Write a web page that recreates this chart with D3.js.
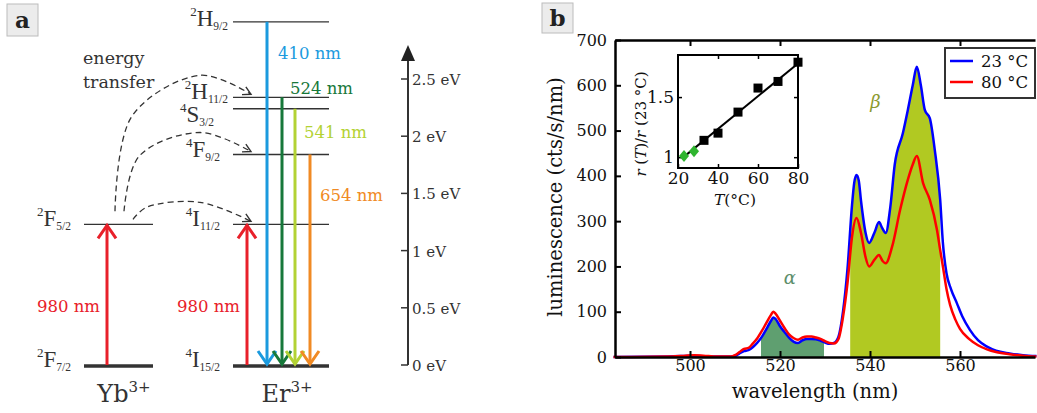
<!DOCTYPE html>
<html>
<head>
<meta charset="utf-8">
<script src="https://cdn.jsdelivr.net/npm/d3@7"></script>
<style>
  body { margin: 0; background: #fff; }
  svg { display: block; }
  .serif { font-family: "DejaVu Serif", serif; }
  .times { font-family: "Liberation Serif", serif; }
</style>
</head>
<body>
<svg id="fig" width="1037" height="413"></svg>
<script>
// ---------- data ----------
// panel a: energy levels (eV)
var ybLevels = [
  {term: "F", spin: "2", j: "7/2", e: 0},
  {term: "F", spin: "2", j: "5/2", e: 1.23}
];
var erLevels = [
  {term: "I", spin: "4", j: "15/2", e: 0},
  {term: "I", spin: "4", j: "11/2", e: 1.23},
  {term: "F", spin: "4", j: "9/2", e: 1.84},
  {term: "S", spin: "4", j: "3/2", e: 2.24},
  {term: "H", spin: "2", j: "11/2", e: 2.34},
  {term: "H", spin: "2", j: "9/2", e: 3.0}
];
var emissions = [
  {nm: "410 nm", e: 3.0, color: "#1b9ade"},
  {nm: "524 nm", e: 2.34, color: "#17783a"},
  {nm: "541 nm", e: 2.24, color: "#b3d234"},
  {nm: "654 nm", e: 1.84, color: "#f08a24"}
];
var transferTo = [2.34, 1.84, 1.23];
var eTicks = [0, 0.5, 1, 1.5, 2, 2.5];
var pumpE = 1.23;

// panel b: spectra
var wl23 = [483, 495, 498, 500, 502, 505, 509, 510, 511, 512, 513, 514, 515, 516, 517, 518, 518.5, 519, 520, 521, 522, 523, 524, 525, 526, 527, 528, 529, 530, 531, 532, 533, 534, 535, 536, 536.5, 537, 537.5, 538, 539, 539.8, 541, 542, 542.7, 543.5, 544.5, 545.5, 547.3, 548.4, 549.5, 550.4, 551.3, 552.2, 553.3, 554.4, 555.6, 556.2, 557, 558, 559.3, 560.5, 562.2, 564, 566, 568, 571, 574, 577];
var lum23 = [0, 1, 2, 3, 2, 1, 1, 2, 8, 13, 15, 22, 32, 45, 62, 80, 87, 84, 68, 55, 43, 34, 31, 37, 40, 40, 39, 36, 32, 29, 31, 45, 100, 195, 335, 385, 402, 390, 345, 275, 252, 275, 298, 285, 274, 330, 425, 494, 545, 600, 641, 600, 545, 527, 457, 347, 252, 185, 150, 119, 90, 60, 37, 23, 14, 8, 4, 2];
var wl80 = [483, 496, 499, 501, 503, 506, 509, 510, 511, 512, 513, 514, 515, 516, 517, 518, 518.5, 519, 520, 521, 522, 523, 524, 525, 526, 527, 528, 529, 530, 531, 532, 533, 534, 535, 536, 537, 538, 539, 539.8, 541, 542, 542.8, 543.5, 544.9, 546.7, 548.4, 549.5, 550.4, 551.8, 553.3, 554.9, 555.6, 556.2, 557, 557.8, 559, 560, 562, 564, 566, 568, 571, 574, 577];
var lum80 = [0, 1, 3, 4, 3, 1, 1, 4, 11, 18, 20, 30, 42, 58, 76, 93, 100, 96, 80, 64, 50, 42, 38, 43, 45, 45, 43, 40, 35, 31, 30, 40, 88, 163, 265, 307, 274, 221, 200, 215, 225, 212, 207, 243, 325, 391, 425, 444, 384, 347, 280, 236, 200, 150, 115, 82, 62, 40, 26, 17, 11, 6, 3, 1];
var alphaBand = [515.8, 529.8];
var betaBand = [535.6, 555.6];
var xTicks = [500, 520, 540, 560];
var yTicks = [0, 100, 200, 300, 400, 500, 600, 700];

// inset: ratio vs temperature
var insT = [23, 28, 33, 40, 50, 60, 70, 80];
var insR = [1.01, 1.05, 1.14, 1.2, 1.375, 1.575, 1.63, 1.79];
var insGreen = [true, true, false, false, false, false, false, false];
var fitT = [22, 80];
var fitR = [0.99, 1.78];
var insXTicks = [20, 40, 60, 80];
var insYTicks = [1, 1.5];

var svg = d3.select("#fig");

function panelTag(x, y, w, h, t) {
  svg.append("rect").attr("x", x).attr("y", y).attr("width", w).attr("height", h)
    .attr("fill", "#ececec").attr("stroke", "#bcbcbc");
  svg.append("text").attr("class", "serif").attr("x", x + w / 2).attr("y", y + h / 2 + 8)
    .attr("text-anchor", "middle").attr("font-size", 23).attr("font-weight", "bold")
    .attr("fill", "#222").text(t);
}

// ================= panel a =================
var ink = "#333";
var yE = d3.scaleLinear().domain([0, 2.5]).range([365, 79]);
var ybX = [84, 153], erX = [233, 329];
var pumpX = [107, 247];
var emitX = [267, 282, 295, 310];

panelTag(7, 4, 31, 32, "a");

var ga = svg.append("g");

function levelLabel(l, xEnd, dy) {
  var t = ga.append("text").attr("class", "times").attr("x", xEnd).attr("y", yE(l.e) + dy)
    .attr("text-anchor", "end").attr("fill", ink);
  t.append("tspan").attr("font-size", 13).attr("dy", -10).text(l.spin);
  t.append("tspan").attr("font-size", 23).attr("dy", 10).text(l.term);
  t.append("tspan").attr("font-size", 11.5).attr("dy", 4).text(l.j);
}

ybLevels.forEach(function(l) {
  ga.append("line").attr("x1", ybX[0]).attr("x2", ybX[1])
    .attr("y1", yE(l.e) + (l.e === 0 ? 1 : 0)).attr("y2", yE(l.e) + (l.e === 0 ? 1 : 0))
    .attr("stroke", ink).attr("stroke-width", l.e === 0 ? 3.5 : 1.3);
  levelLabel(l, 71, 2);
});
erLevels.forEach(function(l) {
  ga.append("line").attr("x1", erX[0]).attr("x2", erX[1])
    .attr("y1", yE(l.e) + (l.e === 0 ? 1 : 0)).attr("y2", yE(l.e) + (l.e === 0 ? 1 : 0))
    .attr("stroke", ink).attr("stroke-width", l.e === 0 ? 3.5 : 1.3);
  var dy = l.term === "S" ? 13 : (l.e === 3.0 ? 4 : 2);
  levelLabel(l, l.term === "H" ? 228 : (l.term === "S" ? 214 : 220), dy);
});

function chevron(x, y, dir, color) {
  // dir = -1 for up-pointing, 1 for down-pointing
  ga.append("path")
    .attr("d", "M" + (x - 9) + "," + (y - dir * 13) + "L" + x + "," + y + "L" + (x + 9) + "," + (y - dir * 13))
    .attr("fill", "none").attr("stroke", color).attr("stroke-width", 3);
}

// pump arrows
pumpX.forEach(function(x, i) {
  ga.append("line").attr("x1", x).attr("x2", x).attr("y1", yE(0)).attr("y2", yE(pumpE) + 1)
    .attr("stroke", "#e8202a").attr("stroke-width", 3);
  chevron(x, yE(pumpE) + 1, -1, "#e8202a");
  ga.append("text").attr("class", "serif").attr("x", x - 7).attr("y", 312)
    .attr("text-anchor", "end").attr("font-size", 16.5).attr("fill", "#e8202a").text("980 nm");
});

// emission arrows
var emitLabelPos = [[278, 59], [290, 94], [304, 138], [320, 201]];
emissions.forEach(function(d, i) {
  var x = emitX[i];
  ga.append("line").attr("x1", x).attr("x2", x).attr("y1", yE(d.e)).attr("y2", yE(0) - 1)
    .attr("stroke", d.color).attr("stroke-width", 3);
  chevron(x, yE(0) - 1, 1, d.color);
  ga.append("text").attr("class", "serif").attr("x", emitLabelPos[i][0]).attr("y", emitLabelPos[i][1])
    .attr("font-size", 16.5).attr("fill", d.color).text(d.nm);
});

// energy transfer dashed arcs
var startX = [115, 124, 133];
var startDy = [-13, -13, -5];
var curveLine = d3.line().curve(d3.curveCatmullRom.alpha(0.5));
transferTo.forEach(function(e, i) {
  var x0 = startX[i], y0 = yE(pumpE) + startDy[i];
  var x1 = 251, y1 = yE(e) - 3;
  var px = 200, py = yE(e) - 22;
  var sx = x0 + 0.2 * (px - x0), sy = y0 + 0.7 * (py - y0);
  var pts = [[x0, y0], [sx, sy], [px, py], [x1, y1]];
  ga.append("path").attr("d", curveLine(pts)).attr("fill", "none")
    .attr("stroke", ink).attr("stroke-width", 1.3).attr("stroke-dasharray", "6,4");
  var ang = Math.atan2(y1 - (py + 6), x1 - (px + 25));
  var L = 9;
  var a1 = ang + Math.PI - 0.5, a2 = ang + Math.PI + 0.5;
  ga.append("path")
    .attr("d", "M" + (x1 + L * Math.cos(a1)) + "," + (y1 + L * Math.sin(a1)) + "L" + x1 + "," + y1 +
      "L" + (x1 + L * Math.cos(a2)) + "," + (y1 + L * Math.sin(a2)))
    .attr("fill", "none").attr("stroke", ink).attr("stroke-width", 1.4);
});

ga.append("text").attr("class", "serif").attr("x", 83).attr("y", 64).attr("font-size", 17.5)
  .attr("fill", ink).text("energy");
ga.append("text").attr("class", "serif").attr("x", 83).attr("y", 88).attr("font-size", 17.5)
  .attr("fill", ink).text("transfer");

// ion labels
[["Yb", 124], ["Er", 287]].forEach(function(d) {
  var t = ga.append("text").attr("class", "serif").attr("x", d[1]).attr("y", 402)
    .attr("text-anchor", "middle").attr("fill", ink);
  t.append("tspan").attr("font-size", 24).text(d[0]);
  t.append("tspan").attr("font-size", 15).attr("dy", -10).text("3+");
});

// energy axis
var axX = 408;
ga.append("line").attr("x1", axX).attr("x2", axX).attr("y1", yE(0)).attr("y2", 58)
  .attr("stroke", ink).attr("stroke-width", 2);
ga.append("path").attr("d", "M" + (axX - 7) + ",61L" + axX + ",45L" + (axX + 7) + ",61Z").attr("fill", "#222");
eTicks.forEach(function(v) {
  ga.append("line").attr("x1", axX - 7).attr("x2", axX).attr("y1", yE(v)).attr("y2", yE(v))
    .attr("stroke", ink).attr("stroke-width", 1.5);
  ga.append("text").attr("class", "serif").attr("x", axX + 4).attr("y", yE(v) + 6)
    .attr("font-size", 15).attr("fill", ink).text(v + " eV");
});

// ================= panel b =================
panelTag(542, 3, 31, 30, "b");

var x = d3.scaleLinear().domain([483.33, 576.67]).range([615, 1035]);
var y = d3.scaleLinear().domain([0, 700]).range([357, 40]);
var gb = svg.append("g");

var s23 = wl23.map(function(w, i) { return [w, lum23[i]]; });
var s80 = wl80.map(function(w, i) { return [w, lum80[i]]; });

var area = d3.area().x(function(d) { return x(d[0]); }).y0(y(0)).y1(function(d) { return y(d[1]); })
  .curve(d3.curveMonotoneX);
var line = d3.line().x(function(d) { return x(d[0]); }).y(function(d) { return y(d[1]); })
  .curve(d3.curveMonotoneX);

var defs = svg.append("defs");
[["clipA", alphaBand], ["clipB", betaBand]].forEach(function(c) {
  defs.append("clipPath").attr("id", c[0]).append("rect")
    .attr("x", x(c[1][0])).attr("width", x(c[1][1]) - x(c[1][0])).attr("y", 0).attr("height", 413);
});
gb.append("path").datum(s23).attr("d", area).attr("fill", "#5f9f70").attr("clip-path", "url(#clipA)");
gb.append("path").datum(s23).attr("d", area).attr("fill", "#b1c922").attr("clip-path", "url(#clipB)");

gb.append("path").datum(s23).attr("d", line).attr("fill", "none").attr("stroke", "#0000ff").attr("stroke-width", 2.5);
gb.append("path").datum(s80).attr("d", line).attr("fill", "none").attr("stroke", "#ff0000").attr("stroke-width", 2.5);

gb.append("text").attr("class", "serif").attr("x", x(522.2)).attr("y", 284).attr("text-anchor", "middle")
  .attr("font-size", 18).attr("font-style", "italic").attr("fill", "#5e8f6b").text("α");
gb.append("text").attr("class", "serif").attr("x", x(541.2)).attr("y", 108).attr("text-anchor", "middle")
  .attr("font-size", 18).attr("font-style", "italic").attr("fill", "#8c9a30").text("β");

// axes
function styleAxis(g) {
  g.selectAll("path").attr("stroke", "#000").attr("stroke-width", 2.5);
  g.selectAll("line").attr("stroke", "#000").attr("stroke-width", 2);
  g.selectAll("text").attr("class", "serif").attr("font-size", 16).attr("fill", "#111");
}
gb.append("g").attr("transform", "translate(0,357)")
  .call(d3.axisBottom(x).tickValues(xTicks).tickSizeInner(-6).tickSizeOuter(0).tickPadding(3))
  .call(styleAxis);
gb.append("g").attr("transform", "translate(0,40)")
  .call(d3.axisTop(x).tickValues(xTicks).tickSizeInner(-6).tickSizeOuter(0).tickFormat(""))
  .call(styleAxis);
gb.append("g").attr("transform", "translate(615,0)")
  .call(d3.axisLeft(y).tickValues(yTicks).tickSizeInner(-6).tickSizeOuter(0).tickPadding(8))
  .call(styleAxis);

gb.append("text").attr("class", "serif").attr("x", 815).attr("y", 398).attr("text-anchor", "middle")
  .attr("font-size", 19.5).attr("fill", "#111").text("wavelength (nm)");
gb.append("text").attr("class", "serif").attr("transform", "translate(562,197) rotate(-90)")
  .attr("text-anchor", "middle").attr("font-size", 19.5).attr("fill", "#111").text("luminescence (cts/s/nm)");

// legend
var lg = gb.append("g");
lg.append("rect").attr("x", 945).attr("y", 48).attr("width", 90).attr("height", 50)
  .attr("fill", "#fff").attr("stroke", "#333").attr("stroke-width", 2);
[["#0000ff", "23 °C", 61], ["#ff0000", "80 °C", 82]].forEach(function(d) {
  lg.append("line").attr("x1", 950).attr("x2", 973).attr("y1", d[2]).attr("y2", d[2])
    .attr("stroke", d[0]).attr("stroke-width", 2.5);
  lg.append("text").attr("class", "serif").attr("x", 981).attr("y", d[2] + 6)
    .attr("font-size", 16.5).attr("fill", "#111").text(d[1]);
});

// inset
var xi = d3.scaleLinear().domain([20, 80]).range([678, 798]);
var yi = d3.scaleLinear().domain([0.91, 1.85]).range([168, 55]);
var gi = gb.append("g");
gi.append("rect").attr("x", 678).attr("y", 55).attr("width", 120).attr("height", 113)
  .attr("fill", "#fff").attr("stroke", "#000").attr("stroke-width", 2);
function styleInset(g) {
  g.select(".domain").remove();
  g.selectAll("line").attr("stroke", "#000").attr("stroke-width", 1.5);
  g.selectAll("text").attr("class", "serif").attr("font-size", 17).attr("fill", "#111");
}
var fmt = d3.format("~g");
gi.append("g").attr("transform", "translate(0,168)")
  .call(d3.axisBottom(xi).tickValues(insXTicks).tickFormat(fmt).tickSizeInner(-4).tickSizeOuter(0).tickPadding(4))
  .call(styleInset);
gi.append("g").attr("transform", "translate(0,55)")
  .call(d3.axisTop(xi).tickValues([40, 60]).tickSizeInner(-4).tickSizeOuter(0).tickFormat(""))
  .call(styleInset);
gi.append("g").attr("transform", "translate(678,0)")
  .call(d3.axisLeft(yi).tickValues(insYTicks).tickFormat(fmt).tickSizeInner(-4).tickSizeOuter(0).tickPadding(4))
  .call(styleInset);
gi.append("g").attr("transform", "translate(798,0)")
  .call(d3.axisRight(yi).tickValues(insYTicks).tickSizeInner(-4).tickSizeOuter(0).tickFormat(""))
  .call(styleInset);

gi.append("path").datum(fitT.map(function(t, i) { return [t, fitR[i]]; }))
  .attr("d", d3.line().x(function(d) { return xi(d[0]); }).y(function(d) { return yi(d[1]); }))
  .attr("stroke", "#000").attr("stroke-width", 2).attr("fill", "none");
insT.forEach(function(t, i) {
  var cx = xi(t), cy = yi(insR[i]);
  if (insGreen[i]) {
    gi.append("path").attr("d", "M" + cx + "," + (cy - 6) + "L" + (cx + 5) + "," + cy + "L" + cx + "," + (cy + 6) + "L" + (cx - 5) + "," + cy + "Z")
      .attr("fill", "#2fb52f");
  } else {
    gi.append("rect").attr("x", cx - 4.5).attr("y", cy - 4.5).attr("width", 9).attr("height", 9).attr("fill", "#000");
  }
});

var tl = gi.append("text").attr("class", "serif").attr("x", 735).attr("y", 205).attr("text-anchor", "middle")
  .attr("font-size", 15.5).attr("fill", "#111");
tl.append("tspan").attr("font-style", "italic").text("T");
tl.append("tspan").text("(°C)");

var yl = gi.append("text").attr("class", "serif").attr("transform", "translate(646,124) rotate(-90)")
  .attr("text-anchor", "middle").attr("font-size", 15).attr("fill", "#111");
yl.append("tspan").attr("font-style", "italic").text("r");
yl.append("tspan").text(" (");
yl.append("tspan").attr("font-style", "italic").text("T");
yl.append("tspan").text(")/");
yl.append("tspan").attr("font-style", "italic").text("r");
yl.append("tspan").text(" (23 °C)");
</script>
</body>
</html>
